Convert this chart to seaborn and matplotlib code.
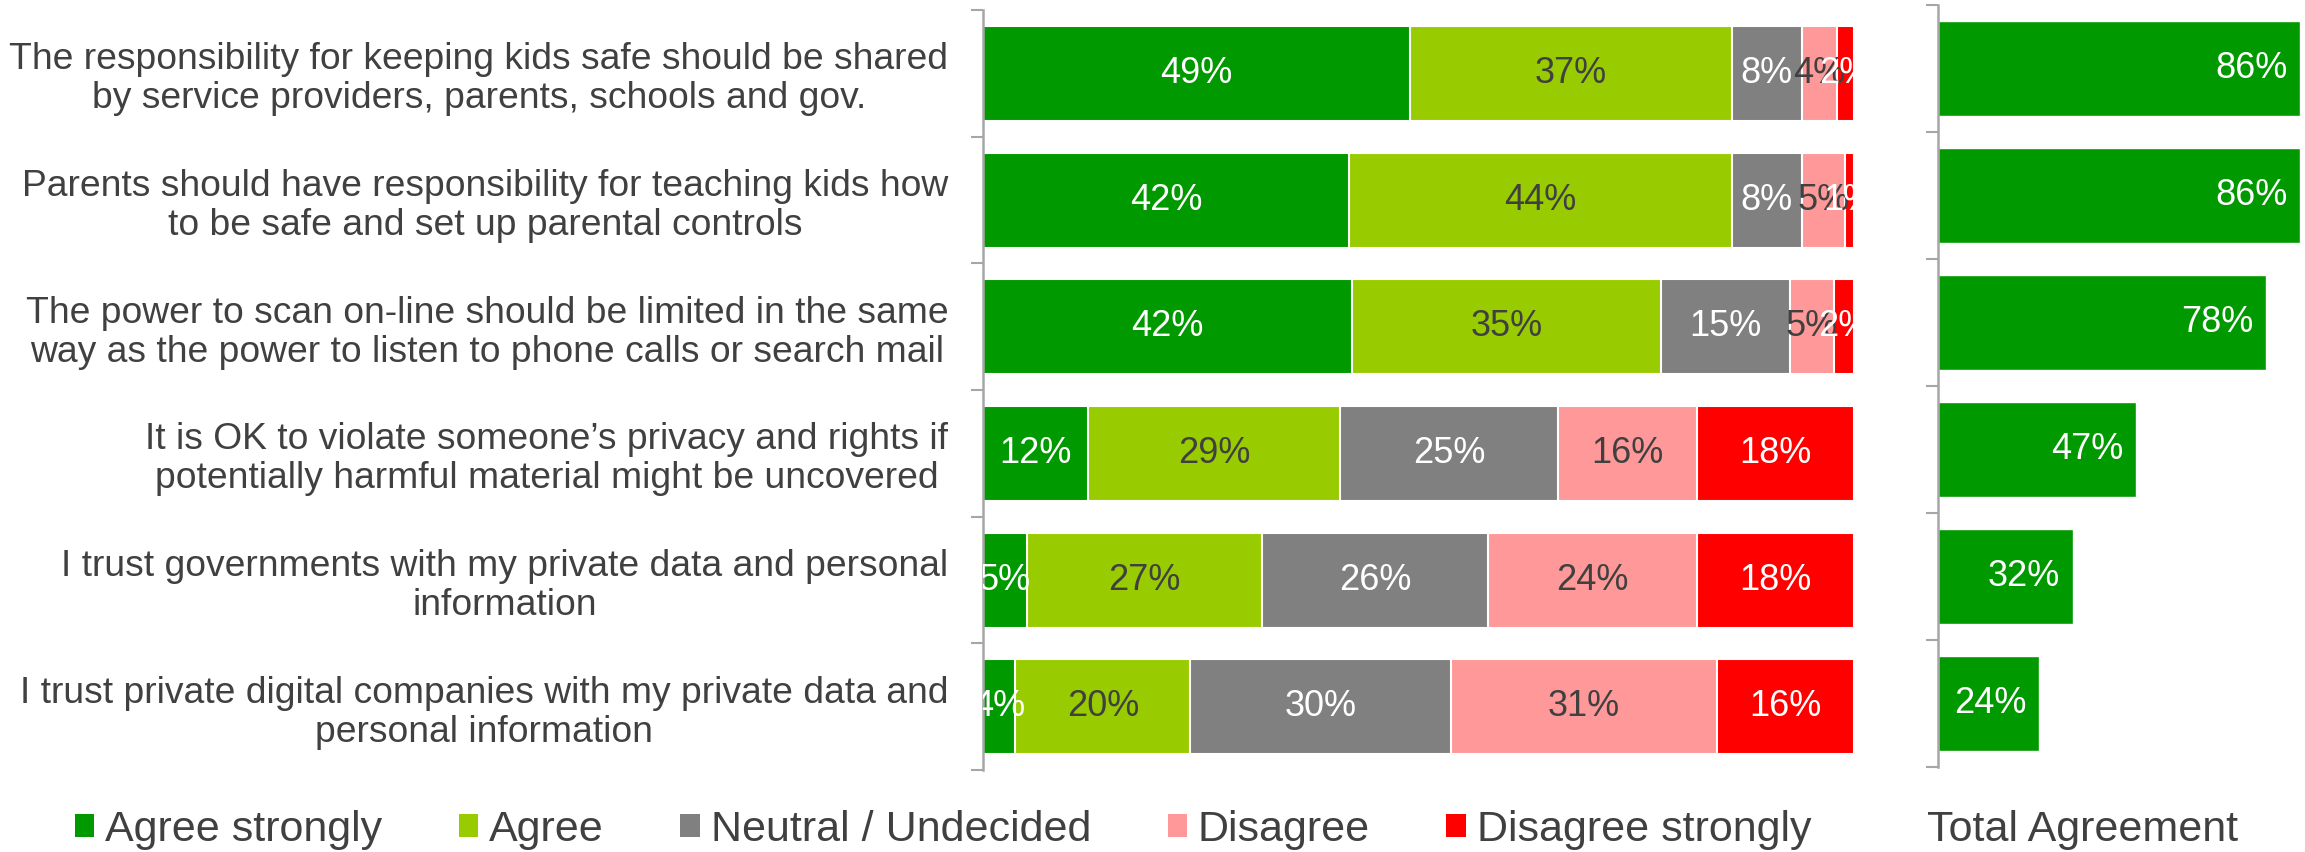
import matplotlib
matplotlib.use("Agg")
import matplotlib.pyplot as plt
from matplotlib.patches import Patch
import seaborn as sns
import pandas as pd
import numpy as np

# ---- data ----
statements = [
    "The responsibility for keeping kids safe should be shared\nby service providers, parents, schools and gov.",
    "Parents should have responsibility for teaching kids how\nto be safe and set up parental controls",
    "The power to scan on-line should be limited in the same\nway as the power to listen to phone calls or search mail",
    "It is OK to violate someone\u2019s privacy and rights if\npotentially harmful material might be uncovered",
    "I trust governments with my private data and personal\ninformation",
    "I trust private digital companies with my private data and\npersonal information",
]
series_names = ["Agree strongly", "Agree", "Neutral / Undecided", "Disagree", "Disagree strongly"]
agree_strongly = [49, 42, 42.4, 12, 5, 3.7]
agree = [37, 44, 35.4, 29, 27, 20.1]
neutral = [8, 8, 14.8, 25, 26, 29.9]
disagree = [4, 5, 5.1, 16, 24, 30.6]
disagree_strongly = [2, 1, 2.3, 18, 18, 15.7]
total_agreement = [86, 86, 78, 47, 32, 24]

colors = ["#009900", "#99CC00", "#808080", "#FF9999", "#FF0000"]
label_colors = ["white", "#404040", "white", "#404040", "white"]
text_color = "#404040"
axis_color = "#A6A6A6"

sns.set_style("white")
plt.rcParams["font.family"] = ["Liberation Sans", "DejaVu Sans"]

W, H, DPI = 2305, 852, 100
fig = plt.figure(figsize=(W / DPI, H / DPI), dpi=DPI)

ax = fig.add_axes([983 / W, 1 - 770 / H, (1854 - 983) / W, (770 - 10) / H])
ax2 = fig.add_axes([1938 / W, 1 - 767 / H, (W - 1938) / W, (767 - 5) / H])

series = [agree_strongly, agree, neutral, disagree, disagree_strongly]
df = pd.DataFrame({name: vals for name, vals in zip(series_names, series)})
df["statement"] = statements
cum = df[series_names].cumsum(axis=1)

# stacked bars: draw cumulative totals from longest to shortest
for k in reversed(range(len(series_names))):
    sns.barplot(x=cum[series_names[k]], y=df["statement"], orient="h", color=colors[k],
                width=0.75, edgecolor="white", linewidth=1.5, saturation=1, ax=ax)

for i in range(len(statements)):
    left = 0
    for k, name in enumerate(series_names):
        v = df[name].iloc[i]
        ax.text(left + v / 2, i, f"{round(v):d}%", ha="center", va="center", fontsize=26,
                color=label_colors[k], clip_on=True)
        left += v


def style_axis(a):
    a.set_xlabel("")
    a.set_ylabel("")
    a.set_xticks([])
    a.set_ylim(5.5, -0.5)
    a.set_yticks(np.arange(-0.5, 6, 1), minor=True)
    a.tick_params(axis="y", which="minor", left=True, length=9, width=1.5,
                  color=axis_color, direction="out")
    for s in ["top", "right", "bottom"]:
        a.spines[s].set_visible(False)
    a.spines["left"].set_color(axis_color)
    a.spines["left"].set_linewidth(1.8)


ax.set_xlim(0, 100)
style_axis(ax)
ax.tick_params(axis="y", which="major", left=False, length=0, pad=25, labelsize=26.8,
               labelcolor=text_color)
for lab in ax.get_yticklabels():
    lab.set_multialignment("center")
    lab.set_linespacing(1.15)

# total agreement panel
sns.barplot(x=total_agreement, y=statements, orient="h", color=colors[0], width=0.75,
            edgecolor="white", linewidth=1.0, saturation=1, ax=ax2)
for i, v in enumerate(total_agreement):
    ax2.annotate(f"{v}%", xy=(v, i), xytext=(-9, 0), textcoords="offset points",
                 ha="right", va="center", fontsize=26, color="white")
ax2.set_xlim(0, 87.2)
style_axis(ax2)
ax2.set_yticks([])
ax2.tick_params(axis="y", which="major", left=False, length=0)

handles = [Patch(facecolor=c, edgecolor="none") for c in colors]
fig.legend(handles, series_names, loc="center left", bbox_to_anchor=(75 / W, 1 - 830 / H),
           ncol=5, frameon=False, fontsize=31, handlelength=0.45, handleheight=0.45,
           handletextpad=0.25, columnspacing=1.78, borderpad=0, borderaxespad=0,
           labelcolor=text_color)
fig.text(1927 / W, 1 - 830 / H, "Total Agreement", fontsize=31, color=text_color,
         ha="left", va="center")

fig.savefig("out.png", dpi=DPI)
